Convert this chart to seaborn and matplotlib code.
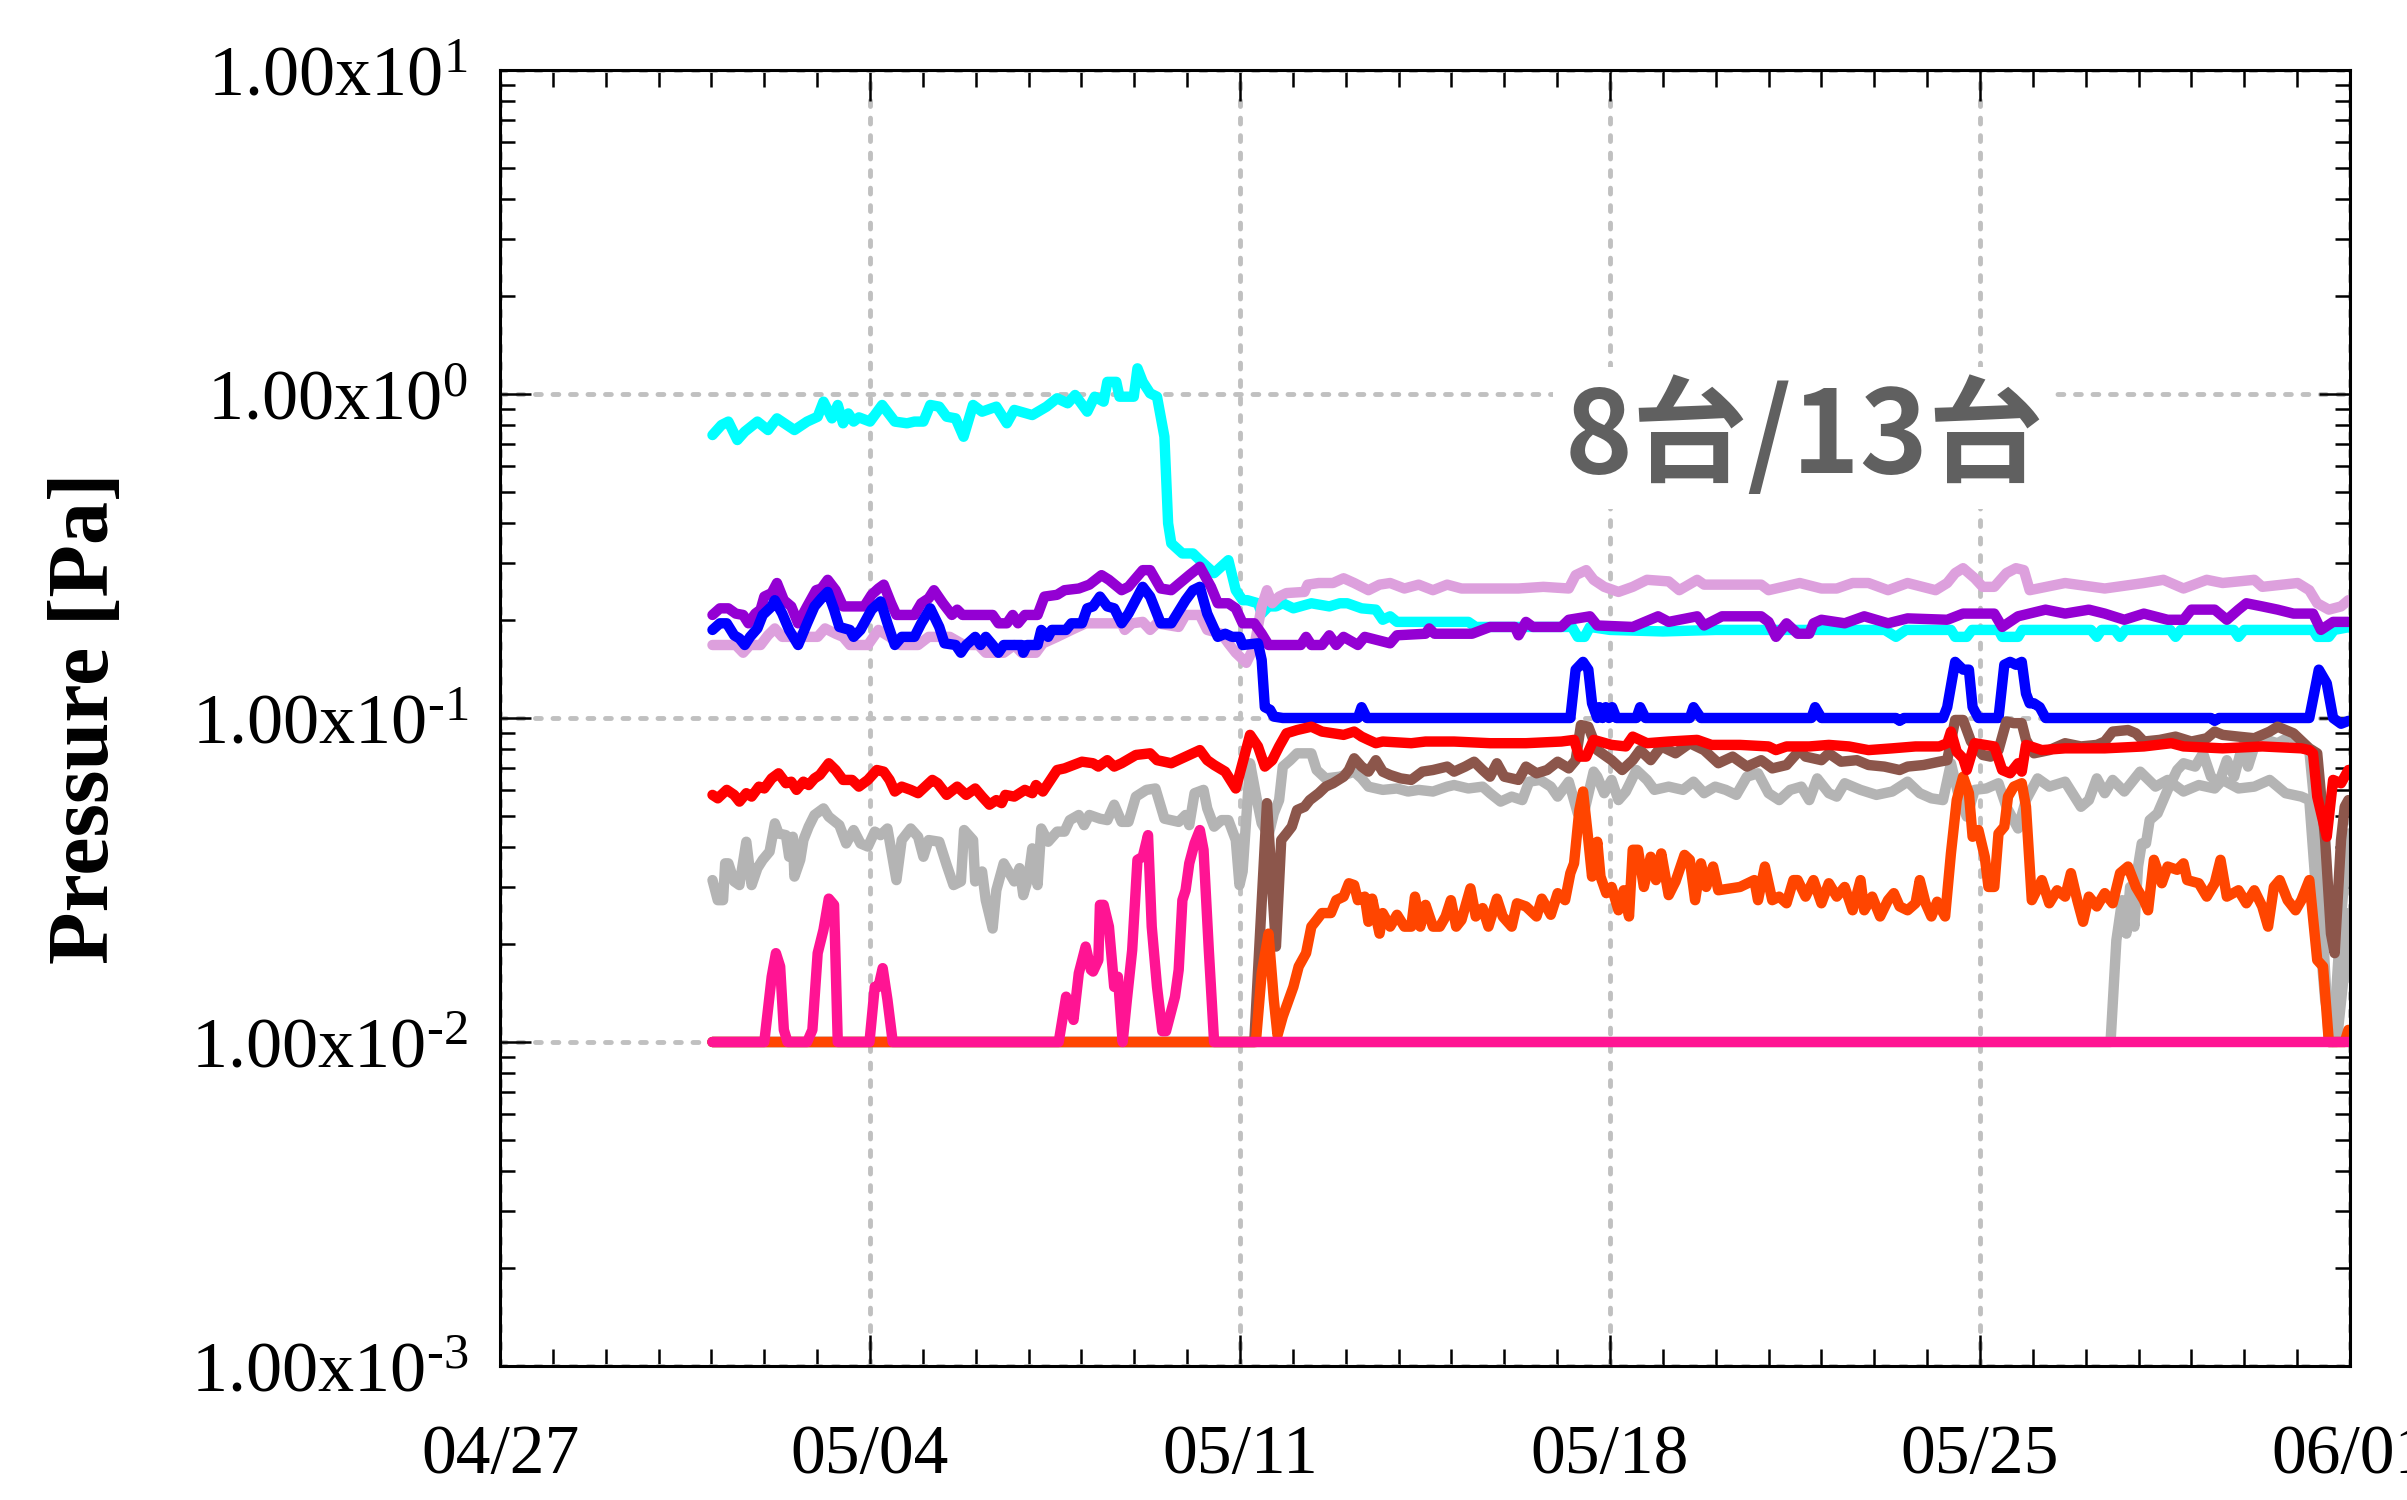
import matplotlib
matplotlib.use("Agg")
import matplotlib.pyplot as plt
import seaborn as sns
import pandas as pd
from matplotlib.ticker import FixedLocator, LogLocator, NullFormatter

# x values are days counted from 04/27 00:00, y values are pressure in Pa
xtick_labels = ["04/27", "05/04", "05/11", "05/18", "05/25", "06/01"]
ytick_values = [1e-3, 1e-2, 1e-1, 1e0, 1e1]
ytick_labels = [r"$\mathregular{1.00x10^{‐3}}$", r"$\mathregular{1.00x10^{‐2}}$",
                r"$\mathregular{1.00x10^{‐1}}$", r"$\mathregular{1.00x10^{0}}$",
                r"$\mathregular{1.00x10^{1}}$"]
note_text = "8台/13台"

cyan = [(4.02, .747), (4.19, .802), (4.32, .822), (4.49, .721), (4.63, .765), (4.87, .822), (5.07, .774),
        (5.24, .841), (5.57, .774), (5.81, .822), (6.01, .851), (6.12, .947), (6.28, .841), (6.39, .925),
        (6.49, .812), (6.59, .871), (6.69, .822), (6.79, .847), (7.00, .822), (7.23, .925), (7.47, .822),
        (7.70, .812), (7.84, .822), (8.01, .822), (8.14, .925), (8.31, .914), (8.45, .851), (8.62, .841),
        (8.77, .738), (8.95, .925), (9.12, .882), (9.39, .914), (9.59, .812), (9.73, .893), (10.07, .861),
        (10.34, .914), (10.54, .970), (10.74, .936), (10.88, .993), (11.11, .882), (11.25, .981),
        (11.42, .947), (11.49, 1.09), (11.66, 1.09), (11.72, .981), (11.99, .981), (12.06, 1.20),
        (12.16, 1.09), (12.30, 1.005), (12.43, .981), (12.57, .738), (12.64, .399), (12.70, .346),
        (12.91, .322), (13.11, .322), (13.24, .307), (13.51, .280), (13.78, .307), (13.92, .248),
        (14.05, .231), (14.14, .231), (14.34, .226), (14.41, .210), (14.54, .221), (14.68, .221),
        (14.81, .226), (15.01, .218), (15.35, .226), (15.69, .221), (15.89, .226), (16.03, .226),
        (16.30, .218), (16.57, .216), (16.70, .201), (16.84, .206), (16.97, .198), (18.32, .198),
        (18.46, .191), (20.28, .191), (20.39, .178), (20.52, .178), (20.62, .191), (21.0, .187),
        (22.0, .185), (23.0, .187), (24.4, .187), (26.2, .187), (26.41, .178), (26.6, .187),
        (27.45, .187), (27.53, .178), (27.75, .178), (27.85, .187), (28.35, .187), (28.42, .178),
        (28.72, .178), (28.8, .187), (30.1, .187), (30.21, .178), (30.3, .187), (30.55, .187),
        (30.65, .178), (30.75, .187), (31.6, .187), (31.70, .178), (31.8, .187), (32.8, .187),
        (32.89, .178), (33.0, .187), (34.3, .187), (34.38, .178), (34.60, .178), (34.7, .187), (35.0, .191)]

violet = [(4.02, .168), (4.46, .168), (4.60, .159), (4.73, .168), (4.93, .168), (5.07, .180), (5.20, .189),
          (5.34, .178), (6.01, .178), (6.15, .189), (6.35, .182), (6.49, .178), (6.62, .168), (6.96, .168),
          (7.16, .187), (7.37, .178), (7.57, .168), (7.91, .168), (8.11, .178), (8.51, .178), (8.78, .168),
          (9.05, .168), (9.19, .159), (9.53, .159), (9.73, .168), (9.87, .159), (10.14, .159), (10.27, .170),
          (10.54, .178), (10.81, .187), (11.08, .196), (11.76, .196), (11.82, .187), (11.96, .196),
          (12.16, .198), (12.30, .187), (12.43, .196), (12.84, .191), (12.97, .208), (13.24, .208),
          (13.38, .187), (13.65, .182), (13.78, .170), (13.92, .159), (14.12, .148), (14.27, .166),
          (14.41, .221), (14.51, .248), (14.61, .226), (14.74, .237), (14.88, .243), (15.22, .245),
          (15.28, .258), (15.49, .261), (15.76, .261), (15.96, .270), (16.16, .261), (16.43, .248),
          (16.64, .258), (16.84, .261), (17.11, .251), (17.38, .258), (17.65, .248), (17.92, .258),
          (18.19, .251), (18.73, .251), (19.27, .251), (19.74, .254), (20.22, .251), (20.35, .276),
          (20.55, .286), (20.69, .267), (20.89, .254), (21.16, .245), (21.43, .254), (21.70, .267),
          (22.11, .264), (22.31, .248), (22.65, .267), (22.78, .258), (23.86, .258), (24.0, .248),
          (24.59, .261), (25.0, .251), (25.29, .251), (25.59, .261), (25.89, .261), (26.26, .248),
          (26.63, .261), (27.16, .248), (27.38, .261), (27.53, .280), (27.68, .290), (27.90, .270),
          (28.05, .254), (28.27, .254), (28.50, .280), (28.68, .290), (28.83, .286), (28.94, .248),
          (29.61, .261), (30.36, .251), (31.10, .261), (31.47, .267), (31.85, .251), (32.29, .267),
          (32.59, .261), (33.19, .267), (33.34, .254), (34.01, .261), (34.23, .248), (34.38, .226),
          (34.60, .216), (34.83, .221), (34.97, .231)]

purple = [(4.02, .208), (4.16, .218), (4.32, .218), (4.46, .210), (4.60, .208), (4.70, .196), (4.83, .210),
          (4.93, .216), (5.00, .237), (5.14, .243), (5.24, .261), (5.37, .231), (5.51, .221), (5.64, .196),
          (5.81, .221), (5.98, .248), (6.08, .251), (6.20, .267), (6.35, .248), (6.49, .221), (6.89, .221),
          (7.03, .240), (7.16, .251), (7.26, .258), (7.40, .226), (7.50, .208), (7.84, .208), (7.97, .226),
          (8.11, .234), (8.21, .248), (8.38, .226), (8.55, .208), (8.65, .216), (8.75, .208), (9.32, .208),
          (9.43, .196), (9.59, .196), (9.70, .208), (9.80, .196), (9.93, .208), (10.17, .208), (10.30, .237),
          (10.54, .240), (10.68, .248), (10.95, .251), (11.15, .258), (11.38, .276), (11.52, .267),
          (11.76, .248), (11.89, .254), (12.16, .286), (12.30, .286), (12.50, .251), (12.70, .248),
          (13.04, .276), (13.24, .293), (13.45, .254), (13.58, .226), (13.78, .226), (13.92, .218),
          (14.05, .196), (14.27, .196), (14.41, .182), (14.54, .168), (15.15, .168), (15.25, .178),
          (15.35, .168), (15.55, .168), (15.69, .180), (15.82, .168), (15.96, .178), (16.23, .168),
          (16.36, .178), (16.84, .170), (16.97, .180), (17.51, .182), (17.58, .189), (17.68, .182),
          (18.05, .182), (18.39, .182), (18.73, .191), (19.20, .191), (19.27, .180), (19.41, .198),
          (19.54, .191), (20.08, .191), (20.22, .201), (20.62, .206), (20.76, .193), (21.43, .191),
          (21.91, .206), (22.11, .198), (22.65, .206), (22.78, .193), (23.12, .206), (23.46, .206),
          (23.86, .206), (24.0, .198), (24.14, .178), (24.34, .196), (24.55, .182), (24.77, .182),
          (24.85, .196), (25.0, .201), (25.44, .196), (25.81, .206), (26.26, .196), (26.63, .203),
          (27.38, .201), (27.68, .210), (28.27, .210), (28.42, .191), (28.72, .206), (29.24, .216),
          (29.61, .210), (30.06, .216), (30.36, .210), (30.73, .201), (31.10, .210), (31.55, .201),
          (31.85, .201), (32.0, .216), (32.44, .216), (32.67, .201), (32.89, .216), (33.04, .226),
          (33.34, .221), (33.63, .216), (33.93, .210), (34.30, .210), (34.45, .187), (34.68, .198),
          (34.97, .198)]

blue = [(4.02, .187), (4.16, .196), (4.29, .196), (4.43, .180), (4.53, .176), (4.63, .168), (4.73, .178),
        (4.87, .189), (4.97, .208), (5.14, .221), (5.20, .231), (5.34, .210), (5.47, .187), (5.64, .168),
        (5.81, .196), (5.95, .221), (6.08, .234), (6.20, .245), (6.32, .216), (6.42, .191), (6.62, .187),
        (6.69, .178), (6.82, .187), (7.03, .216), (7.20, .229), (7.33, .196), (7.47, .168), (7.60, .178),
        (7.84, .178), (7.97, .196), (8.14, .218), (8.31, .191), (8.41, .170), (8.62, .168), (8.72, .159),
        (8.82, .168), (8.99, .178), (9.09, .168), (9.19, .178), (9.32, .168), (9.43, .159), (9.53, .168),
        (9.87, .168), (9.90, .159), (9.97, .168), (10.17, .168), (10.24, .187), (10.37, .178),
        (10.44, .187), (10.71, .187), (10.81, .196), (11.01, .196), (11.11, .218), (11.22, .221),
        (11.35, .237), (11.49, .221), (11.62, .218), (11.76, .196), (11.89, .210), (12.16, .254),
        (12.30, .237), (12.50, .196), (12.70, .196), (12.97, .231), (13.11, .248), (13.24, .254),
        (13.38, .210), (13.58, .178), (13.72, .182), (13.85, .178), (13.99, .178), (14.05, .168),
        (14.34, .170), (14.41, .151), (14.47, .108), (14.57, .106), (14.64, .101), (14.81, .100),
        (16.23, .100), (16.30, .108), (16.40, .100), (20.25, .100), (20.35, .141), (20.49, .149),
        (20.59, .141), (20.66, .111), (20.76, .100), (20.80, .108), (20.86, .100), (20.92, .108),
        (20.98, .100), (21.04, .108), (21.12, .100), (21.50, .100), (21.57, .108), (21.67, .100),
        (22.51, .100), (22.58, .108), (22.72, .100), (24.81, .100), (24.88, .108), (25.0, .100),
        (26.41, .100), (26.48, .098), (26.56, .100), (27.30, .100), (27.38, .108), (27.53, .149),
        (27.68, .141), (27.79, .141), (27.86, .108), (27.97, .100), (28.35, .100), (28.46, .146),
        (28.57, .149), (28.68, .146), (28.79, .149), (28.87, .119), (28.94, .111), (29.02, .111),
        (29.13, .108), (29.24, .100), (32.37, .100), (32.44, .098), (32.52, .100), (34.23, .100),
        (34.41, .141), (34.56, .128), (34.68, .100), (34.83, .096), (34.97, .098)]

red = [(4.02, .0579), (4.12, .0565), (4.29, .0600), (4.43, .0579), (4.53, .0552), (4.66, .0586),
       (4.76, .0572), (4.90, .0614), (5.00, .0606), (5.14, .0651), (5.27, .0675), (5.41, .0629),
       (5.51, .0636), (5.61, .0600), (5.74, .0636), (5.84, .0621), (5.95, .0651), (6.05, .0667),
       (6.22, .0725), (6.35, .0691), (6.49, .0644), (6.66, .0644), (6.79, .0614), (6.96, .0644),
       (7.13, .0691), (7.26, .0683), (7.37, .0644), (7.47, .0593), (7.60, .0614), (7.77, .0600),
       (7.91, .0586), (8.18, .0644), (8.28, .0629), (8.45, .0579), (8.65, .0614), (8.82, .0579),
       (8.99, .0606), (9.12, .0572), (9.26, .0540), (9.39, .0558), (9.49, .0546), (9.56, .0579),
       (9.73, .0572), (9.93, .0600), (10.07, .0586), (10.14, .0621), (10.27, .0593), (10.54, .0691),
       (10.68, .0699), (11.01, .0733), (11.22, .0725), (11.32, .0708), (11.49, .0741), (11.62, .0708),
       (11.76, .0725), (12.03, .0769), (12.30, .0778), (12.43, .0741), (12.70, .0725), (12.97, .0760),
       (13.24, .0796), (13.38, .0741), (13.51, .0716), (13.72, .0683), (13.92, .0606), (14.19, .0887),
       (14.34, .0817), (14.47, .0708), (14.61, .0741), (14.74, .0817), (14.88, .0897), (15.08, .0918),
       (15.35, .0940), (15.55, .0908), (15.96, .0887), (16.16, .0908), (16.30, .0876), (16.43, .0856),
       (16.57, .0836), (16.70, .0846), (17.24, .0836), (17.51, .0846), (18.05, .0846), (18.73, .0836),
       (19.41, .0836), (20.08, .0846), (20.32, .0856), (20.42, .0760), (20.55, .0760), (20.69, .0856),
       (21.03, .0826), (21.30, .0817), (21.43, .0876), (21.70, .0836), (22.11, .0846), (22.65, .0856),
       (22.92, .0826), (23.46, .0826), (24.0, .0817), (24.14, .0796), (24.34, .0817), (24.77, .0817),
       (25.14, .0826), (25.52, .0817), (25.89, .0796), (26.34, .0806), (26.78, .0817), (27.23, .0817),
       (27.38, .0836), (27.45, .0908), (27.56, .0787), (27.68, .0751), (27.75, .0691), (27.90, .0836),
       (28.27, .0817), (28.42, .0691), (28.57, .0675), (28.72, .0725), (28.79, .0683), (28.87, .0826),
       (29.17, .0796), (29.61, .0806), (30.36, .0806), (31.10, .0817), (31.62, .0836), (31.85, .0817),
       (32.59, .0806), (33.34, .0817), (34.08, .0806), (34.23, .0796), (34.30, .0778), (34.38, .0572),
       (34.53, .0451), (34.56, .0430), (34.68, .0644), (34.83, .0629), (34.97, .0691)]

gray_a = [(4.02, .0316), (4.12, .0274), (4.22, .0274), (4.26, .0356), (4.32, .0356), (4.43, .0313),
          (4.53, .0305), (4.66, .0415), (4.76, .0305), (4.87, .0344), (4.97, .0365), (5.10, .0387),
          (5.20, .0473), (5.27, .0440), (5.41, .0435), (5.47, .0373), (5.54, .0430), (5.57, .0324),
          (5.68, .0365), (5.74, .0420), (5.84, .0462), (5.95, .0502), (6.12, .0526), (6.22, .0496),
          (6.42, .0467), (6.55, .0410), (6.69, .0451), (6.82, .0410), (6.96, .0401), (7.09, .0446),
          (7.20, .0435), (7.33, .0456), (7.50, .0316), (7.60, .0420), (7.77, .0456), (7.91, .0430),
          (8.01, .0373), (8.11, .0420), (8.31, .0415), (8.45, .0352), (8.58, .0305), (8.72, .0313),
          (8.78, .0451), (8.95, .0420), (8.99, .0313), (9.12, .0336), (9.19, .0274), (9.32, .0224),
          (9.39, .0294), (9.53, .0356), (9.73, .0313), (9.83, .0344), (9.90, .0284), (10.0, .0324),
          (10.07, .0396), (10.17, .0305), (10.24, .0456), (10.37, .0415), (10.54, .0446), (10.68, .0446),
          (10.78, .0484), (10.95, .0502), (11.05, .0467), (11.15, .0502), (11.35, .0489), (11.49, .0484),
          (11.62, .0540), (11.76, .0478), (11.89, .0478), (12.03, .0572), (12.23, .0600), (12.40, .0606),
          (12.57, .0489), (12.84, .0478), (12.97, .0502), (13.04, .0467), (13.14, .0586), (13.31, .0600),
          (13.38, .0526), (13.51, .0462), (13.65, .0484), (13.78, .0484), (13.92, .0420), (13.99, .0305),
          (14.05, .0336), (14.19, .0725), (14.32, .0558), (14.41, .0473), (14.54, .0435), (14.64, .0508),
          (14.74, .0558), (14.81, .0708), (14.95, .0741), (15.08, .0778), (15.35, .0778), (15.45, .0691),
          (15.62, .0651), (15.89, .0659), (16.16, .0683), (16.30, .0651), (16.43, .0614), (16.70, .0600),
          (16.97, .0606), (17.18, .0593), (17.38, .0600), (17.65, .0593), (17.92, .0614), (18.05, .0621),
          (18.32, .0606), (18.59, .0614), (18.73, .0586), (18.93, .0552), (19.14, .0572), (19.34, .0558),
          (19.47, .0636), (19.68, .0644), (19.88, .0614), (20.01, .0572), (20.22, .0636), (20.39, .0508),
          (20.52, .0520), (20.69, .0683), (20.76, .0659), (20.89, .0586), (21.03, .0644), (21.16, .0558),
          (21.30, .0593), (21.50, .0691), (21.70, .0644), (21.84, .0600), (22.11, .0614), (22.38, .0600),
          (22.58, .0636), (22.78, .0586), (22.99, .0614), (23.19, .0600), (23.39, .0579), (23.59, .0659),
          (23.80, .0675), (24.0, .0586), (24.20, .0558), (24.41, .0600), (24.62, .0614), (24.77, .0558),
          (24.92, .0651), (25.14, .0586), (25.29, .0572), (25.44, .0629), (25.74, .0600), (26.04, .0579),
          (26.34, .0593), (26.63, .0636), (26.86, .0586), (27.08, .0565), (27.30, .0558), (27.45, .0725),
          (27.60, .0572), (27.75, .0496), (27.90, .0600), (28.12, .0606), (28.35, .0629), (28.50, .0532),
          (28.72, .0456), (28.87, .0558), (29.09, .0651), (29.31, .0614), (29.61, .0636), (29.91, .0532),
          (30.06, .0558), (30.21, .0651), (30.36, .0586), (30.51, .0644), (30.73, .0593), (31.03, .0683),
          (31.32, .0614), (31.55, .0644), (31.85, .0593), (32.14, .0621), (32.44, .0606), (32.59, .0644),
          (32.89, .0606), (33.19, .0614), (33.48, .0644), (33.78, .0586), (34.08, .0572), (34.23, .0558),
          (34.38, .0262), (34.53, .0135), (34.68, .0100), (34.83, .0244), (34.97, .0440)]

gray_b = [(4.02, .0100), (30.47, .0100), (30.58, .0206), (30.69, .0274), (30.77, .0216), (30.84, .0301),
          (30.92, .0227), (30.99, .0348), (31.06, .0410), (31.14, .0410), (31.21, .0484), (31.36, .0508),
          (31.55, .0600), (31.73, .0691), (31.85, .0725), (32.07, .0708), (32.22, .0778), (32.37, .0659),
          (32.52, .0629), (32.67, .0741), (32.81, .0659), (32.96, .0817), (33.07, .0708), (33.19, .0817),
          (33.41, .0856), (33.63, .0836), (33.86, .0876), (34.08, .0836), (34.23, .0796), (34.38, .0440),
          (34.49, .0216), (34.60, .0100), (34.75, .0100), (34.90, .0171), (34.97, .0250)]

brown = [(4.02, .0100), (14.27, .0100), (14.51, .0546), (14.68, .0197), (14.78, .0420), (14.88, .0440),
         (14.98, .0462), (15.08, .0520), (15.22, .0532), (15.32, .0558), (15.49, .0586), (15.62, .0614),
         (15.76, .0629), (15.96, .0659), (16.06, .0691), (16.16, .0751), (16.30, .0708), (16.43, .0683),
         (16.57, .0741), (16.70, .0683), (16.84, .0667), (17.04, .0651), (17.24, .0644), (17.45, .0683),
         (17.65, .0691), (17.92, .0708), (18.05, .0683), (18.26, .0708), (18.43, .0733), (18.59, .0691),
         (18.73, .0659), (18.86, .0725), (19.0, .0659), (19.27, .0644), (19.41, .0708), (19.61, .0675),
         (19.81, .0691), (20.01, .0733), (20.22, .0699), (20.35, .0741), (20.45, .0951), (20.59, .0940),
         (20.76, .0796), (21.03, .0741), (21.23, .0691), (21.43, .0741), (21.57, .0796), (21.77, .0741),
         (21.97, .0817), (22.24, .0778), (22.51, .0836), (22.78, .0796), (23.05, .0725), (23.32, .0760),
         (23.59, .0708), (23.86, .0741), (24.07, .0699), (24.34, .0716), (24.59, .0796), (24.70, .0760),
         (25.0, .0741), (25.14, .0778), (25.37, .0733), (25.67, .0741), (25.89, .0716), (26.19, .0708),
         (26.48, .0691), (26.63, .0708), (26.93, .0716), (27.23, .0733), (27.38, .0741), (27.53, .0986),
         (27.68, .0986), (27.83, .0846), (28.05, .0769), (28.20, .0760), (28.35, .0796), (28.50, .0975),
         (28.64, .0964), (28.79, .0964), (28.87, .0856), (29.02, .0778), (29.31, .0796), (29.61, .0836),
         (29.91, .0817), (30.21, .0826), (30.36, .0846), (30.51, .0908), (30.80, .0918), (30.95, .0897),
         (31.10, .0846), (31.40, .0856), (31.70, .0876), (32.0, .0846), (32.29, .0866), (32.44, .0908),
         (32.59, .0887), (32.89, .0876), (33.19, .0866), (33.48, .0908), (33.63, .0940), (33.93, .0897),
         (34.23, .0806), (34.38, .0778), (34.53, .0420), (34.64, .0216), (34.71, .0188), (34.83, .0420),
         (34.90, .0532), (34.97, .0558)]

orangered = [(4.02, .0100), (14.30, .0100), (14.41, .0163), (14.54, .0216), (14.64, .0135), (14.71, .0105),
             (14.81, .0120), (15.01, .0148), (15.11, .0171), (15.25, .0188), (15.35, .0227), (15.45, .0238),
             (15.55, .0250), (15.72, .0250), (15.82, .0274), (15.96, .0281), (16.06, .0309), (16.16, .0305),
             (16.23, .0274), (16.36, .0281), (16.43, .0235), (16.50, .0277), (16.64, .0216), (16.70, .0250),
             (16.84, .0227), (16.97, .0247), (17.11, .0227), (17.24, .0227), (17.31, .0281), (17.41, .0227),
             (17.51, .0265), (17.65, .0227), (17.78, .0227), (17.89, .0244), (17.99, .0274), (18.09, .0227),
             (18.19, .0238), (18.36, .0298), (18.46, .0244), (18.59, .0259), (18.70, .0227), (18.86, .0277),
             (18.97, .0244), (19.14, .0227), (19.24, .0268), (19.41, .0262), (19.61, .0244), (19.71, .0277),
             (19.88, .0247), (20.01, .0288), (20.15, .0274), (20.25, .0332), (20.32, .0356), (20.42, .0520),
             (20.49, .0593), (20.59, .0420), (20.66, .0324), (20.76, .0415), (20.82, .0324), (20.93, .0288),
             (21.03, .0301), (21.16, .0255), (21.26, .0294), (21.36, .0244), (21.43, .0392), (21.53, .0392),
             (21.64, .0301), (21.77, .0373), (21.87, .0316), (21.97, .0382), (22.11, .0284), (22.24, .0313),
             (22.41, .0378), (22.51, .0365), (22.61, .0274), (22.72, .0356), (22.82, .0301), (22.95, .0348),
             (23.05, .0294), (23.46, .0301), (23.73, .0316), (23.80, .0274), (23.93, .0348), (24.07, .0274),
             (24.20, .0281), (24.34, .0268), (24.47, .0316), (24.55, .0316), (24.70, .0281), (24.85, .0316),
             (25.0, .0268), (25.14, .0309), (25.29, .0281), (25.44, .0301), (25.59, .0255), (25.74, .0316),
             (25.81, .0255), (25.96, .0281), (26.11, .0244), (26.26, .0274), (26.37, .0288), (26.48, .0262),
             (26.63, .0255), (26.78, .0268), (26.86, .0316), (26.97, .0268), (27.08, .0244), (27.19, .0271),
             (27.34, .0244), (27.45, .0382), (27.56, .0558), (27.68, .0659), (27.79, .0586), (27.86, .0430),
             (27.97, .0451), (28.09, .0373), (28.16, .0301), (28.27, .0301), (28.35, .0440), (28.46, .0462),
             (28.53, .0572), (28.64, .0614), (28.79, .0629), (28.87, .0532), (28.98, .0274), (29.17, .0316),
             (29.31, .0268), (29.46, .0294), (29.61, .0281), (29.72, .0332), (29.84, .0274), (29.95, .0235),
             (30.06, .0281), (30.21, .0262), (30.36, .0288), (30.51, .0268), (30.65, .0332), (30.80, .0348),
             (30.95, .0301), (31.10, .0274), (31.18, .0255), (31.29, .0365), (31.44, .0309), (31.55, .0348),
             (31.73, .0340), (31.85, .0356), (31.92, .0316), (32.14, .0309), (32.29, .0281), (32.44, .0309),
             (32.55, .0365), (32.67, .0281), (32.89, .0294), (33.04, .0268), (33.19, .0294), (33.34, .0262),
             (33.45, .0227), (33.56, .0301), (33.67, .0316), (33.82, .0274), (33.97, .0255), (34.08, .0274),
             (34.23, .0316), (34.38, .0179), (34.49, .0171), (34.60, .0100), (34.90, .0100), (34.97, .0109)]

pink = [(4.02, .0100), (5.00, .0100), (5.14, .0159), (5.22, .0188), (5.30, .0171), (5.37, .0109),
        (5.44, .0100), (5.81, .0100), (5.91, .0109), (6.01, .0188), (6.12, .0222), (6.22, .0277),
        (6.32, .0265), (6.39, .0100), (6.99, .0100), (7.09, .0148), (7.16, .0148), (7.24, .0169),
        (7.33, .0135), (7.43, .0100), (10.57, .0100), (10.71, .0138), (10.85, .0117), (10.95, .0163),
        (11.08, .0197), (11.18, .0167), (11.22, .0165), (11.32, .0179), (11.35, .0265), (11.42, .0265),
        (11.52, .0227), (11.62, .0148), (11.69, .0159), (11.78, .0100), (11.86, .0135), (11.96, .0192),
        (12.06, .0365), (12.16, .0373), (12.26, .0435), (12.33, .0227), (12.43, .0148), (12.53, .0108),
        (12.60, .0108), (12.77, .0138), (12.84, .0167), (12.91, .0274), (12.97, .0294), (13.04, .0356),
        (13.14, .0410), (13.24, .0451), (13.31, .0392), (13.41, .0192), (13.51, .0100), (35.0, .0100)]

# drawing order, first is at the bottom
units = ["gray_b", "cyan", "violet", "purple", "blue", "gray_a", "brown", "orangered", "red", "pink"]
series = {"gray_b": gray_b, "cyan": cyan, "violet": violet, "purple": purple, "blue": blue,
          "gray_a": gray_a, "brown": brown, "orangered": orangered, "red": red, "pink": pink}
colors = {"gray_b": "#b4b4b4", "cyan": "#00ffff", "violet": "#dda0dd", "purple": "#9400d3",
          "blue": "#0000ff", "gray_a": "#b4b4b4", "brown": "#8c564b", "orangered": "#ff4500",
          "red": "#ff0000", "pink": "#ff1493"}

frames = []
for name in units:
    frames.append(pd.DataFrame(series[name], columns=["day", "pa"]).assign(unit=name))
df = pd.concat(frames, ignore_index=True)

sns.set_theme(style="ticks")
plt.rcParams["font.family"] = ["Liberation Serif", "DejaVu Serif"]
plt.rcParams["mathtext.fontset"] = "custom"
plt.rcParams["mathtext.rm"] = "Liberation Serif"
plt.rcParams["mathtext.it"] = "Liberation Serif:italic"
plt.rcParams["mathtext.bf"] = "Liberation Serif:bold"
for key in ["text.color", "axes.labelcolor", "xtick.color", "ytick.color",
            "xtick.labelcolor", "ytick.labelcolor"]:
    plt.rcParams[key] = "black"

fig = plt.figure(figsize=(24.07, 15), dpi=100)
ax = fig.add_axes([500 / 2407, 134 / 1500, 1850 / 2407, 1296 / 1500])
ax.set_yscale("log")

sns.lineplot(data=df, x="day", y="pa", hue="unit", hue_order=units, palette=colors,
             estimator=None, sort=False, linewidth=7.5, legend=False, ax=ax)
for line in ax.get_lines():
    line.set_linewidth(7.5)
    line.set_solid_joinstyle("round")

ax.set_xlim(0, 35)
ax.set_ylim(1e-3, 1e1)
ax.xaxis.set_major_locator(FixedLocator([7 * i for i in range(len(xtick_labels))]))
ax.xaxis.set_minor_locator(FixedLocator(list(range(36))))
ax.set_xticklabels(xtick_labels)
ax.set_yticks(ytick_values)
ax.set_yticklabels(ytick_labels)
ax.yaxis.set_minor_locator(LogLocator(base=10, subs=range(2, 10)))
ax.yaxis.set_minor_formatter(NullFormatter())
ax.set_xlabel("")
ax.set_ylabel("Pressure [Pa]", fontsize=62, fontweight="bold", color="black")
ax.yaxis.set_label_coords(-0.2015, 0.5)

ax.grid(which="major", color="#c0c0c0", linestyle=(0, (1.2, 2.4)), lw=3.5,
        dash_capstyle="round")
for s in ax.spines.values():
    s.set_linewidth(2.2)
    s.set_color("black")
ax.tick_params(which="both", direction="in", top=True, right=True, color="black", width=1.8)
ax.tick_params(axis="x", which="major", length=22, pad=42, labelsize=50)
ax.tick_params(axis="x", which="minor", length=12)
ax.tick_params(axis="y", which="major", length=22, pad=23, labelsize=52)
ax.tick_params(axis="y", which="minor", length=11)

ax.text(0.705, 0.716, note_text, transform=ax.transAxes, ha="center", va="center",
        fontsize=83, fontweight="bold", color="#606060", family=["Noto Sans CJK JP", "DejaVu Sans"],
        bbox=dict(facecolor="white", edgecolor="none", pad=8))

fig.savefig("out.png", dpi=100)
